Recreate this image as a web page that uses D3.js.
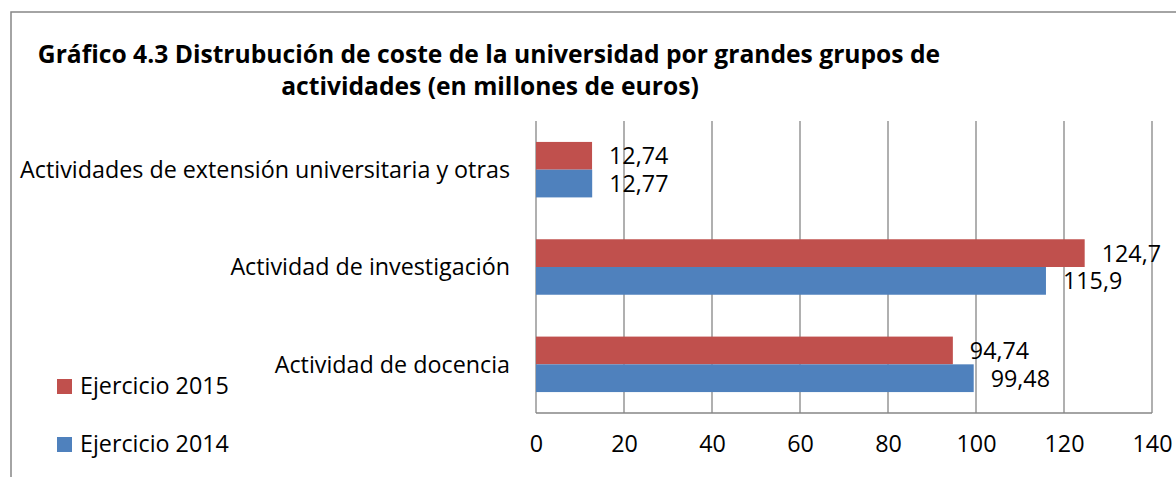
<!DOCTYPE html>
<html><head><meta charset="utf-8">
<script src="https://cdn.jsdelivr.net/npm/d3@7"></script>
<style>body{margin:0;background:#fff}svg{display:block}text{font-family:"Open Sans",sans-serif}</style>
</head><body>
<script>
const categories = ["Actividades de extensión universitaria y otras","Actividad de investigación","Actividad de docencia"];
const series2015 = [12.74, 124.7, 94.74];
const series2014 = [12.77, 115.9, 99.48];
const labels2015 = ["12,74","124,7","94,74"];
const labels2014 = ["12,77","115,9","99,48"];
const seriesNames = ["Ejercicio 2015","Ejercicio 2014"];
const xTicks = [0,20,40,60,80,100,120,140];
const colors = ["#C0504D","#4F81BD"];

const W=1176,H=477;
const svg=d3.select("body").append("svg").attr("width",W).attr("height",H);
svg.append("rect").attr("x",11).attr("y",12).attr("width",W).attr("height",H).attr("fill","none").attr("stroke","#878787").attr("stroke-width",1.5);

// measure to fit font sizes
function fit(text,bold,target){
  const t=svg.append("text").attr("font-size",20).attr("font-weight",bold?"bold":"normal").text(text);
  const w=t.node().getComputedTextLength(); t.remove();
  return 20*target/w;
}
const fs=fit(categories[0],false,490);
const tfs=fit("Gráfico 4.3 Distrubución de coste de la universidad por grandes grupos de",true,903);

svg.append("text").attr("x",489).attr("y",63).attr("text-anchor","middle").attr("font-weight","bold").attr("font-size",tfs).text("Gráfico 4.3 Distrubución de coste de la universidad por grandes grupos de");
svg.append("text").attr("x",490).attr("y",95).attr("text-anchor","middle").attr("font-weight","bold").attr("font-size",tfs).text("actividades (en millones de euros)");

const x=d3.scaleLinear().domain([0,140]).range([536,1152]);
const y=d3.scaleBand().domain(categories).range([121,413]).paddingInner(0.43).paddingOuter(0.215);
const sub=d3.scaleBand().domain([0,1]).range([0,y.bandwidth()]);

const g=svg.append("g");
g.selectAll(".grid").data(xTicks).join("line").attr("x1",d=>x(d)).attr("x2",d=>x(d)).attr("y1",121).attr("y2",413).attr("stroke","#868686").attr("stroke-width",1.3);
g.append("line").attr("x1",x(0)).attr("x2",x(140)).attr("y1",413).attr("y2",413).attr("stroke","#868686").attr("stroke-width",1.3);

const data=[series2015,series2014], labs=[labels2015,labels2014];
data.forEach((s,si)=>{
  g.selectAll(".b"+si).data(categories).join("rect")
   .attr("x",x(0)).attr("y",(c)=>y(c)+sub(si)).attr("width",(c,i)=>x(s[i])-x(0)).attr("height",sub.bandwidth())
   .attr("fill",colors[si]);
  g.selectAll(".l"+si).data(categories).join("text")
   .attr("x",(c,i)=>x(s[i])+17).attr("y",(c)=>y(c)+sub(si)+sub.bandwidth()/2).attr("dy","0.36em")
   .attr("font-size",fs).attr("fill","#000").text((c,i)=>labs[si][i]);
});

g.selectAll(".cat").data(categories).join("text").attr("x",510).attr("y",c=>y(c)+y.bandwidth()/2).attr("dy","0.36em").attr("text-anchor","end").attr("font-size",fs).text(d=>d);

const ax=svg.append("g").attr("transform","translate(0,413)").call(d3.axisBottom(x).tickValues(xTicks).tickSize(0).tickPadding(22).tickFormat(d=>d));
ax.select(".domain").remove();
ax.selectAll("text").attr("font-size",fs).attr("font-family","'Open Sans',sans-serif").attr("fill","#000");

const leg=svg.append("g");
seriesNames.forEach((n,i)=>{
  leg.append("rect").attr("x",57).attr("y",379+i*58).attr("width",15).attr("height",15).attr("fill",colors[i]);
  leg.append("text").attr("x",80).attr("y",386+i*58).attr("dy","0.36em").attr("font-size",fs).text(n);
});
</script>
</body></html>
